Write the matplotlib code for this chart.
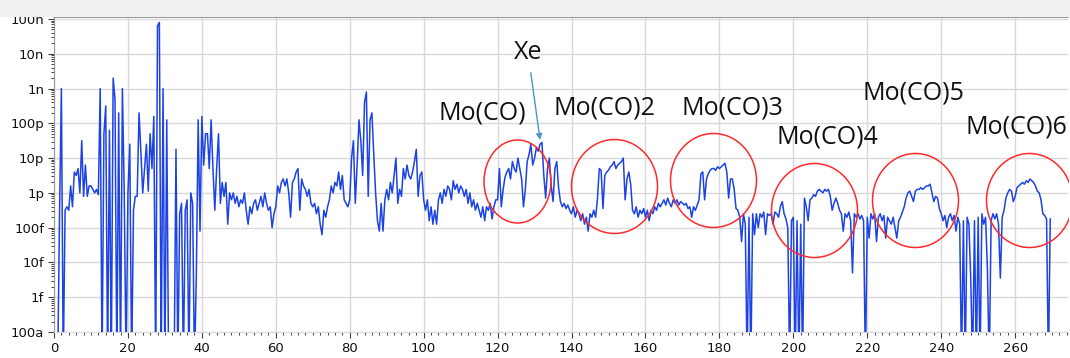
import matplotlib
matplotlib.use('Agg')
import matplotlib.pyplot as plt
import numpy as np
from matplotlib.patches import Rectangle
from matplotlib.path import Path
from matplotlib.ticker import FixedLocator, LogLocator, MultipleLocator, NullFormatter

plt.rcParams['font.family'] = 'DejaVu Sans'

# Mass scan, sampled every half mass unit starting at 0 amu
mass_start = 0.0
mass_step = 0.5

# log10 of the ion current (A), one row per 10 amu.  -17 = below the 100a floor
log_current = [
    # 0 - 9.5
    -17, -17, -17, -12.6, -9.0, -17, -12.5, -12.4, -12.5, -11.8,
    -12.4, -11.4, -11.5, -11.3, -12.0, -10.5, -12.1, -11.2, -12.1, -11.8,
    # 10 - 19.5
    -11.8, -11.9, -12.0, -11.9, -12.05, -9.0, -17, -10.3, -9.5, -17,
    -10.2, -17, -8.7, -9.3, -17, -9.7, -17, -9.0, -12.0, -17,
    # 20 - 29.5
    -12.0, -10.6, -17, -12.5, -12.1, -12.1, -9.7, -10.8, -12.0, -11.3,
    -10.6, -11.95, -10.3, -11.3, -9.8, -17, -7.2, -7.1, -17, -9.0,
    # 30 - 39.5
    -17, -9.9, -17, -17, -17, -17, -10.75, -17, -12.6, -12.3,
    -17, -12.5, -12.2, -17, -12.0, -12.3, -17, -14.4, -9.9, -13.1,
    # 40 - 49.5
    -9.8, -11.2, -10.3, -10.3, -11.3, -9.9, -11.3, -12.5, -11.3, -10.3,
    -12.3, -11.7, -12.1, -11.7, -12.9, -12.0, -12.2, -12.0, -12.3, -12.1,
    # 50 - 59.5
    -12.4, -12.2, -12.3, -12.0, -12.5, -12.9, -12.4, -12.6, -12.3, -12.2,
    -12.5, -12.3, -12.1, -12.4, -12.0, -12.3, -12.5, -12.4, -13.0, -12.6,
    # 60 - 69.5
    -12.4, -11.8, -12.0, -11.7, -11.6, -11.8, -11.6, -12.0, -12.7, -11.7,
    -11.6, -11.4, -11.3, -12.5, -11.6, -11.8, -11.9, -12.1, -11.9, -12.3,
    # 70 - 79.5
    -12.4, -12.3, -12.6, -12.4, -12.9, -13.2, -12.5, -12.7, -12.4, -12.2,
    -11.8, -12.0, -11.7, -11.8, -11.4, -11.9, -11.5, -12.2, -12.3, -12.4,
    # 80 - 89.5
    -12.2, -11.0, -10.5, -12.3, -11.2, -9.9, -10.5, -11.5, -9.4, -9.1,
    -12.1, -9.9, -9.7, -10.9, -12.0, -12.8, -13.1, -12.3, -13.1, -12.2,
    # 90 - 99.5
    -11.9, -12.2, -11.7, -12.0, -11.5, -11.0, -12.3, -11.9, -12.1, -11.3,
    -11.6, -11.2, -11.5, -11.6, -11.4, -11.1, -10.75, -12.1, -11.5, -11.4,
    # 100 - 109.5
    -12.2, -12.5, -12.2, -12.8, -12.4, -12.9, -12.5, -12.9, -12.2, -12.0,
    -12.3, -11.9, -12.1, -11.8, -11.9, -12.2, -11.65, -11.9, -11.75, -12.0,
    # 110 - 119.5
    -11.8, -11.9, -12.1, -11.9, -12.3, -12.0, -12.4, -12.2, -12.5, -12.3,
    -12.5, -12.7, -12.4, -12.8, -12.4, -12.5, -12.3, -12.75, -12.4, -12.2,
    # 120 - 129.5
    -12.2, -11.3, -12.4, -11.9, -11.55, -11.4, -11.3, -11.6, -11.1, -11.3,
    -11.4, -11.0, -11.3, -11.6, -12.4, -11.9, -11.1, -10.9, -10.6, -11.2,
    # 130 - 139.5
    -11.0, -10.7, -10.8, -10.6, -10.55, -11.5, -12.15, -11.3, -11.0, -11.8,
    -12.25, -11.3, -11.1, -11.85, -12.25, -12.4, -12.3, -12.45, -12.35, -12.5,
    # 140 - 149.5
    -12.6, -12.4, -12.7, -12.5, -12.6, -12.8, -12.6, -12.9, -12.7, -13.1,
    -12.6, -12.7, -12.5, -12.7, -12.2, -11.3, -11.35, -12.45, -11.5, -11.4,
    # 150 - 159.5
    -11.35, -11.25, -11.2, -11.1, -11.3, -11.2, -11.15, -11.1, -11.0, -12.2,
    -11.6, -11.4, -11.75, -12.5, -12.6, -12.4, -12.7, -12.5, -12.6, -12.45,
    # 160 - 169.5
    -12.7, -12.5, -12.8, -12.5, -12.6, -12.4, -12.5, -12.3, -12.4, -12.3,
    -12.2, -12.35, -12.15, -12.3, -12.4, -12.2, -12.3, -12.2, -12.35, -12.25,
    # 170 - 179.5
    -12.3, -12.35, -12.3, -12.45, -12.4, -12.7, -12.4, -12.5, -12.35, -12.2,
    -11.45, -11.4, -12.2, -11.6, -11.45, -11.35, -11.3, -11.3, -11.35, -11.25,
    # 180 - 189.5
    -11.3, -11.25, -11.2, -11.15, -11.4, -12.15, -11.6, -11.6, -11.9, -12.45,
    -12.5, -12.7, -13.4, -12.6, -12.9, -17, -12.7, -17, -12.6, -13.2,
    # 190 - 199.5
    -12.6, -13.0, -12.6, -12.7, -12.55, -13.2, -12.6, -12.65, -12.6, -12.9,
    -12.55, -12.6, -12.7, -12.4, -12.25, -12.6, -12.75, -13.0, -17, -12.8,
    # 200 - 209.5
    -12.7, -17, -12.8, -17, -12.9, -17, -12.15, -12.4, -12.8, -12.2,
    -12.15, -12.05, -12.1, -11.95, -11.9, -11.95, -12.0, -11.9, -11.95, -11.9,
    # 210 - 219.5
    -12.1, -12.5, -12.3, -12.15, -12.3, -12.5, -12.6, -13.1, -12.6, -12.7,
    -12.55, -12.8, -14.3, -12.6, -12.7, -12.6, -12.75, -12.65, -12.8, -17,
    # 220 - 229.5
    -12.7, -13.3, -12.6, -12.75, -12.6, -13.4, -12.7, -12.6, -12.8, -12.65,
    -13.3, -12.7, -12.8, -12.9, -12.7, -13.0, -13.3, -12.8, -12.7, -12.55,
    # 230 - 239.5
    -12.4, -12.15, -12.0, -11.95, -12.1, -12.25, -11.95, -11.9, -11.9, -11.85,
    -11.9, -11.85, -11.8, -11.8, -11.75, -12.0, -12.25, -12.1, -12.15, -12.45,
    # 240 - 249.5
    -12.6, -12.8, -12.65, -13.0, -12.7, -12.6, -12.8, -12.65, -13.1, -12.7,
    -12.9, -17, -12.8, -17, -12.7, -12.9, -14.5, -17, -12.8, -17,
    # 250 - 259.5
    -12.7, -17, -12.6, -12.9, -12.7, -14.2, -17, -12.8, -12.6, -12.75,
    -12.6, -12.9, -14.45, -12.7, -12.5, -12.15, -12.0, -11.9, -11.95, -12.25,
    # 260 - 269.5
    -12.1, -11.85, -11.8, -11.75, -11.7, -11.75, -11.65, -11.7, -11.6, -11.65,
    -11.7, -11.8, -11.95, -12.0, -12.2, -12.6, -12.65, -12.75, -17, -12.75,
]

# Annotations
peak_labels = ['Mo(CO)', 'Mo(CO)2', 'Mo(CO)3', 'Mo(CO)4', 'Mo(CO)5', 'Mo(CO)6']
label_mass = [115.8, 149.0, 183.4, 209.1, 232.6, 260.3]
label_current = [2.0e-10, 2.75e-10, 2.75e-10, 4.0e-11, 7.4e-10, 7.9e-11]
circle_mass = [125.2, 151.4, 178.3, 205.5, 233.0, 263.7]
circle_current = [2.2e-12, 1.55e-12, 2.3e-12, 3.3e-13, 6.3e-13, 6.3e-13]
xe_label_mass, xe_label_current = 128.2, 1.12e-8
xe_peak_mass, xe_peak_current = 131.5, 3.3e-11

y_ticks = [1e-16, 1e-15, 1e-14, 1e-13, 1e-12, 1e-11, 1e-10, 1e-9, 1e-8, 1e-7]
y_tick_labels = ['100a', '1f', '10f', '100f', '1p', '10p', '100p', '1n', '10n', '100n']

mass = mass_start + mass_step * np.arange(len(log_current))
current = 10.0 ** np.array(log_current)

fig = plt.figure(figsize=(10.7, 3.58), dpi=100, facecolor='white')
ax = fig.add_axes([54 / 1070, 1 - 332 / 358, 1014 / 1070, 315 / 358])

# light grey band above the plot
fig.patches.append(Rectangle((0, 1 - 17 / 358), 1, 17 / 358, transform=fig.transFigure,
                             facecolor='#f0f0f0', edgecolor='none', zorder=0))

ax.plot(mass, current, color='#1d43e3', linewidth=1.1, zorder=3)

ax.set_yscale('log')
ax.set_xlim(0, 274.3)
ax.set_ylim(1e-16, 1.14e-7)

ax.yaxis.set_major_locator(FixedLocator(y_ticks))
ax.set_yticklabels(y_tick_labels)
ax.yaxis.set_minor_locator(LogLocator(base=10, subs=np.arange(2, 10), numticks=30))
ax.yaxis.set_minor_formatter(NullFormatter())
ax.xaxis.set_major_locator(MultipleLocator(20))
ax.xaxis.set_minor_locator(MultipleLocator(2))

ax.tick_params(which='major', direction='out', length=4, width=0.8, color='#404040',
               labelsize=9.5, labelcolor='#111111', pad=3)
ax.tick_params(which='minor', direction='out', length=2.5, width=0.7, color='#404040')

ax.grid(True, which='major', color='#d9d9d9', linewidth=1.0, zorder=0)
ax.set_axisbelow(True)

ax.spines['right'].set_visible(False)
ax.spines['top'].set_color('#8a8a8a')
ax.spines['top'].set_linewidth(1.2)
ax.spines['left'].set_color('#9a9a9a')
ax.spines['bottom'].set_color('#d9d9d9')

# red circles round the Mo(CO)n groups
circle = Path.unit_circle()
wide = Path(circle.vertices * [86 / 94, 1], circle.codes)
narrow = Path(circle.vertices * [67 / 83, 1], circle.codes)
for i, (cm, cc) in enumerate(zip(circle_mass, circle_current)):
    marker, size = (narrow, 83 * 0.72) if i == 0 else (wide, 94 * 0.72)
    ax.plot([cm], [cc], marker=marker, markersize=size, markerfacecolor='none',
            markeredgecolor='#ff2a2a', markeredgewidth=1.1, linestyle='none', zorder=4)

for txt, lm, lc in zip(peak_labels, label_mass, label_current):
    ax.text(lm, lc, txt, ha='center', va='center', fontsize=18,
            family='Open Sans', color='#111111', zorder=5)

ax.annotate('Xe', xy=(xe_peak_mass, xe_peak_current),
            xytext=(xe_label_mass, xe_label_current),
            ha='center', va='center', fontsize=18, family='Open Sans', color='#111111',
            arrowprops=dict(arrowstyle='-|>', color='#4f94cd', lw=1.0,
                            mutation_scale=9, shrinkA=4, shrinkB=0),
            zorder=5)

plt.savefig('out.png', dpi=100)
